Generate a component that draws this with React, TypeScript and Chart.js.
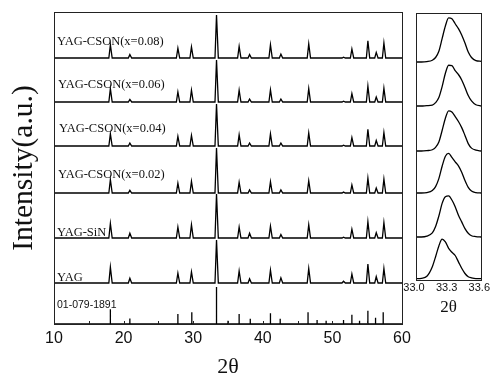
import React, { useEffect, useRef } from "react";
import { Chart, registerables } from "chart.js";
Chart.register(...registerables);

// ---------- main panel data ----------
const seriesNames = [
  "01-079-1891",
  "YAG",
  "YAG-SiN",
  "YAG-CSON(x=0.02)",
  "YAG-CSON(x=0.04)",
  "YAG-CSON(x=0.06)",
  "YAG-CSON(x=0.08)",
];
// stacking offsets (a.u.), bottom to top
const baselines = [0, 41, 86, 131, 178, 222, 266];
// height (a.u.) of the strongest (100 %) reflection in each pattern
const peakScale = [37, 43, 44, 45, 42, 42, 43];

// reference card 01-079-1891 (stick pattern)
const refPositions = [18.1, 20.9, 27.8, 29.8, 33.35, 35.0, 36.6, 38.2, 41.1, 42.5, 44.9, 46.5, 47.8, 49.1, 51.6, 52.8, 53.9, 55.1, 56.2, 57.3];
const refIntensity = [40, 15, 27, 32, 100, 9, 27, 14, 29, 14, 2, 32, 11, 9, 11, 25, 9, 36, 17, 32];

// measured reflections (2θ) and relative intensities (%)
const peakPositions = [18.1, 20.9, 27.8, 29.75, 33.35, 36.6, 38.1, 41.1, 42.6, 46.6, 51.6, 52.8, 55.1, 56.3, 57.4];
const intensityYAG = [37, 11, 23, 26, 100, 28, 10, 30, 12, 34, 4, 21, 44, 15, 34];
const intensitySiN = [33, 11, 25, 30, 100, 25, 11, 27, 8, 30, 2, 20, 37, 12, 35];
const intensityC002 = [30, 6, 22, 26, 100, 24, 7, 25, 7, 27, 2, 18, 33, 11, 31];
const intensityC004 = [29, 7, 23, 25, 100, 27, 7, 29, 7, 31, 2, 20, 40, 13, 32];
const intensityC006 = [32, 6, 24, 28, 100, 28, 7, 29, 7, 32, 2, 20, 38, 12, 33];
const intensityC008 = [31, 8, 23, 26, 100, 27, 8, 31, 9, 33, 2, 21, 40, 13, 35];
const measured = [intensityYAG, intensitySiN, intensityC002, intensityC004, intensityC006, intensityC008];

// x axis ticks
const mainTicks = [10, 20, 30, 40, 50, 60];
const zoomTicks = [33.0, 33.3, 33.6];

// ---------- right (zoomed 33.0–33.6) panel data ----------
const zoomX = [33.0, 33.05, 33.1, 33.15, 33.18, 33.21, 33.24, 33.27, 33.3, 33.33, 33.36, 33.39, 33.42, 33.45, 33.48, 33.51, 33.55, 33.6];
const zoomYAG = [0, 0.01, 0.06, 0.3, 0.55, 0.82, 0.99, 0.92, 0.76, 0.66, 0.58, 0.42, 0.26, 0.13, 0.05, 0.02, 0, 0];
const zoomSiN = [0, 0, 0.02, 0.1, 0.25, 0.5, 0.8, 0.96, 0.98, 0.88, 0.72, 0.52, 0.36, 0.2, 0.09, 0.03, 0.01, 0];
const zoomC002 = [0, 0, 0.01, 0.06, 0.16, 0.36, 0.67, 0.92, 0.99, 0.89, 0.78, 0.68, 0.52, 0.31, 0.14, 0.05, 0.01, 0];
const zoomC004 = [0, 0, 0.01, 0.03, 0.09, 0.22, 0.5, 0.8, 0.98, 0.95, 0.84, 0.72, 0.57, 0.38, 0.18, 0.07, 0.02, 0];
const zoomC006 = [0, 0, 0.01, 0.02, 0.08, 0.2, 0.46, 0.78, 0.97, 0.96, 0.84, 0.75, 0.62, 0.44, 0.25, 0.12, 0.03, 0];
const zoomC008 = [0, 0, 0.01, 0.04, 0.1, 0.24, 0.52, 0.8, 0.98, 0.96, 0.85, 0.74, 0.6, 0.42, 0.22, 0.1, 0.03, 0.015];
const zoomSeries = [zoomYAG, zoomSiN, zoomC002, zoomC004, zoomC006, zoomC008];
const zoomBaselines = [1.3, 43, 87, 129, 174, 218];
const zoomScale = [40, 42, 40, 41, 42, 45];

// ---------- helpers ----------
function stickPoints(pos: number[], rel: number[], base: number, scale: number) {
  const pts: { x: number; y: number }[] = [{ x: 10, y: base }];
  pos.forEach((p, i) => {
    const h = (rel[i] / 100) * scale;
    pts.push({ x: p, y: base }, { x: p, y: base + h }, { x: p, y: base });
  });
  pts.push({ x: 60, y: base });
  return pts;
}
function patternPoints(pos: number[], rel: number[], base: number, scale: number) {
  const pts: { x: number; y: number }[] = [{ x: 10, y: base }];
  pos.forEach((p, i) => {
    const h = (rel[i] / 100) * scale;
    pts.push({ x: p - 0.22, y: base }, { x: p, y: base + h }, { x: p + 0.26, y: base });
  });
  pts.push({ x: 60, y: base });
  return pts;
}

const SERIF = '"Liberation Serif", "Times New Roman", serif';
const SANS = '"Liberation Sans", Arial, sans-serif';
const FRAME = "#222";

const framePlugin = {
  id: "frame",
  afterDraw(chart: any) {
    const { ctx, chartArea } = chart;
    const { left, top, right, bottom } = chartArea;
    ctx.save();
    ctx.strokeStyle = FRAME;
    ctx.lineWidth = 1;
    ctx.strokeRect(Math.round(left) + 0.5, Math.round(top) + 0.5, Math.round(right - left), Math.round(bottom - top));
    ctx.restore();
  },
};

const labelLift = [16, 2, 2, 15, 14, 14, 13];
const labelIndent = [3, 3, 3, 4, 5, 4, 3];
const mainDecor = {
  id: "mainDecor",
  afterDraw(chart: any) {
    const { ctx } = chart;
    const xs = chart.scales.x;
    const ys = chart.scales.y;
    ctx.save();
    // inner ticks every 5 degrees
    ctx.strokeStyle = FRAME;
    ctx.lineWidth = 1;
    const b = Math.round(chart.chartArea.bottom);
    for (let v = 15; v < 60; v += 5) {
      const x = Math.round(xs.getPixelForValue(v)) + 0.5;
      ctx.beginPath();
      ctx.moveTo(x, b);
      ctx.lineTo(x, b - 3);
      ctx.stroke();
    }
    // series labels
    ctx.fillStyle = "#111";
    ctx.textBaseline = "alphabetic";
    ctx.textAlign = "left";
    seriesNames.forEach((name, i) => {
      ctx.font = i === 0 ? `10.5px ${SANS}` : `12.5px ${SERIF}`;
      const x = xs.getPixelForValue(10) + labelIndent[i];
      const y = ys.getPixelForValue(baselines[i]) - labelLift[i];
      ctx.fillText(name, x, y);
    });
    ctx.restore();
  },
};

export default function App() {
  const mainRef = useRef<HTMLCanvasElement>(null);
  const zoomRef = useRef<HTMLCanvasElement>(null);

  useEffect(() => {
    const mainDatasets = seriesNames.map((name, i) => ({
      label: name,
      data:
        i === 0
          ? stickPoints(refPositions, refIntensity, baselines[0], peakScale[0])
          : patternPoints(peakPositions, measured[i - 1], baselines[i], peakScale[i]),
      borderColor: "#000",
      borderWidth: 1.3,
      pointRadius: 0,
      tension: 0,
      clip: false as any,
    }));

    const main = new Chart(mainRef.current!, {
      type: "line",
      data: { datasets: mainDatasets as any },
      options: {
        animation: false,
        responsive: false,
        devicePixelRatio: 1,
        parsing: false as any,
        layout: { padding: { left: 0, top: 12, right: 91, bottom: 0 } },
        plugins: { legend: { display: false }, tooltip: { enabled: false } },
        scales: {
          x: {
            type: "linear",
            min: 10,
            max: 60,
            afterBuildTicks: (s: any) => {
              s.ticks = mainTicks.map((v) => ({ value: v }));
            },
            afterFit: (s: any) => {
              s.height = 51;
            },
            grid: { display: false, drawTicks: false },
            border: { display: false },
            ticks: { color: "#111", font: { family: SANS, size: 16 }, padding: 5, maxRotation: 0 },
            title: {
              display: true,
              text: "2θ",
              color: "#111",
              font: { family: SERIF, size: 22, lineHeight: 1 },
              padding: { top: 0, bottom: -3 },
            },
          },
          y: {
            type: "linear",
            min: 0,
            max: 312,
            afterFit: (s: any) => {
              s.width = 54;
            },
            grid: { display: false, drawTicks: false },
            border: { display: false },
            ticks: { display: false },
            title: {
              display: true,
              text: "Intensity(a.u.)",
              color: "#111",
              font: { family: SERIF, size: 29.5, lineHeight: 1 },
              padding: { top: 9, bottom: 0 },
            },
          },
        },
      },
      plugins: [framePlugin, mainDecor],
    });

    const zoomDatasets = zoomSeries.map((vals, i) => ({
      label: seriesNames[i + 1],
      data: zoomX.map((x, j) => ({ x, y: zoomBaselines[i] + vals[j] * zoomScale[i] })),
      borderColor: "#000",
      borderWidth: 1.3,
      pointRadius: 0,
      cubicInterpolationMode: "monotone" as const,
      clip: false as any,
    }));

    const zoom = new Chart(zoomRef.current!, {
      type: "line",
      data: { datasets: zoomDatasets as any },
      options: {
        animation: false,
        responsive: false,
        devicePixelRatio: 1,
        parsing: false as any,
        layout: { padding: { left: 0, top: 13, right: 10, bottom: 59 } },
        plugins: { legend: { display: false }, tooltip: { enabled: false } },
        scales: {
          x: {
            type: "linear",
            min: 33.0,
            max: 33.6,
            afterBuildTicks: (s: any) => {
              s.ticks = zoomTicks.map((v) => ({ value: v }));
            },
            afterFit: (s: any) => {
              s.height = 36;
            },
            grid: { display: false, drawTicks: false },
            border: { display: false },
            ticks: {
              color: "#111",
              font: { family: SANS, size: 11 },
              padding: 1,
              labelOffset: -2,
              maxRotation: 0,
              callback: (v: any) => Number(v).toFixed(1),
            },
            title: {
              display: true,
              text: "2θ",
              color: "#111",
              font: { family: SERIF, size: 17, lineHeight: 1 },
              padding: { top: 0, bottom: 0 },
            },
          },
          y: {
            type: "linear",
            min: 0,
            max: 267,
            afterFit: (s: any) => {
              s.width = 416;
            },
            grid: { display: false, drawTicks: false },
            border: { display: false },
            ticks: { display: false },
          },
        },
      },
      plugins: [framePlugin],
    });

    return () => {
      main.destroy();
      zoom.destroy();
    };
  }, []);

  return (
    <div style={{ position: "absolute", left: 0, top: 0, width: 493, height: 375, background: "#fff", overflow: "hidden" }}>
      <canvas ref={mainRef} width={493} height={375} style={{ position: "absolute", left: 0, top: 0 }} />
      <canvas ref={zoomRef} width={493} height={375} style={{ position: "absolute", left: 0, top: 0 }} />
    </div>
  );
}
